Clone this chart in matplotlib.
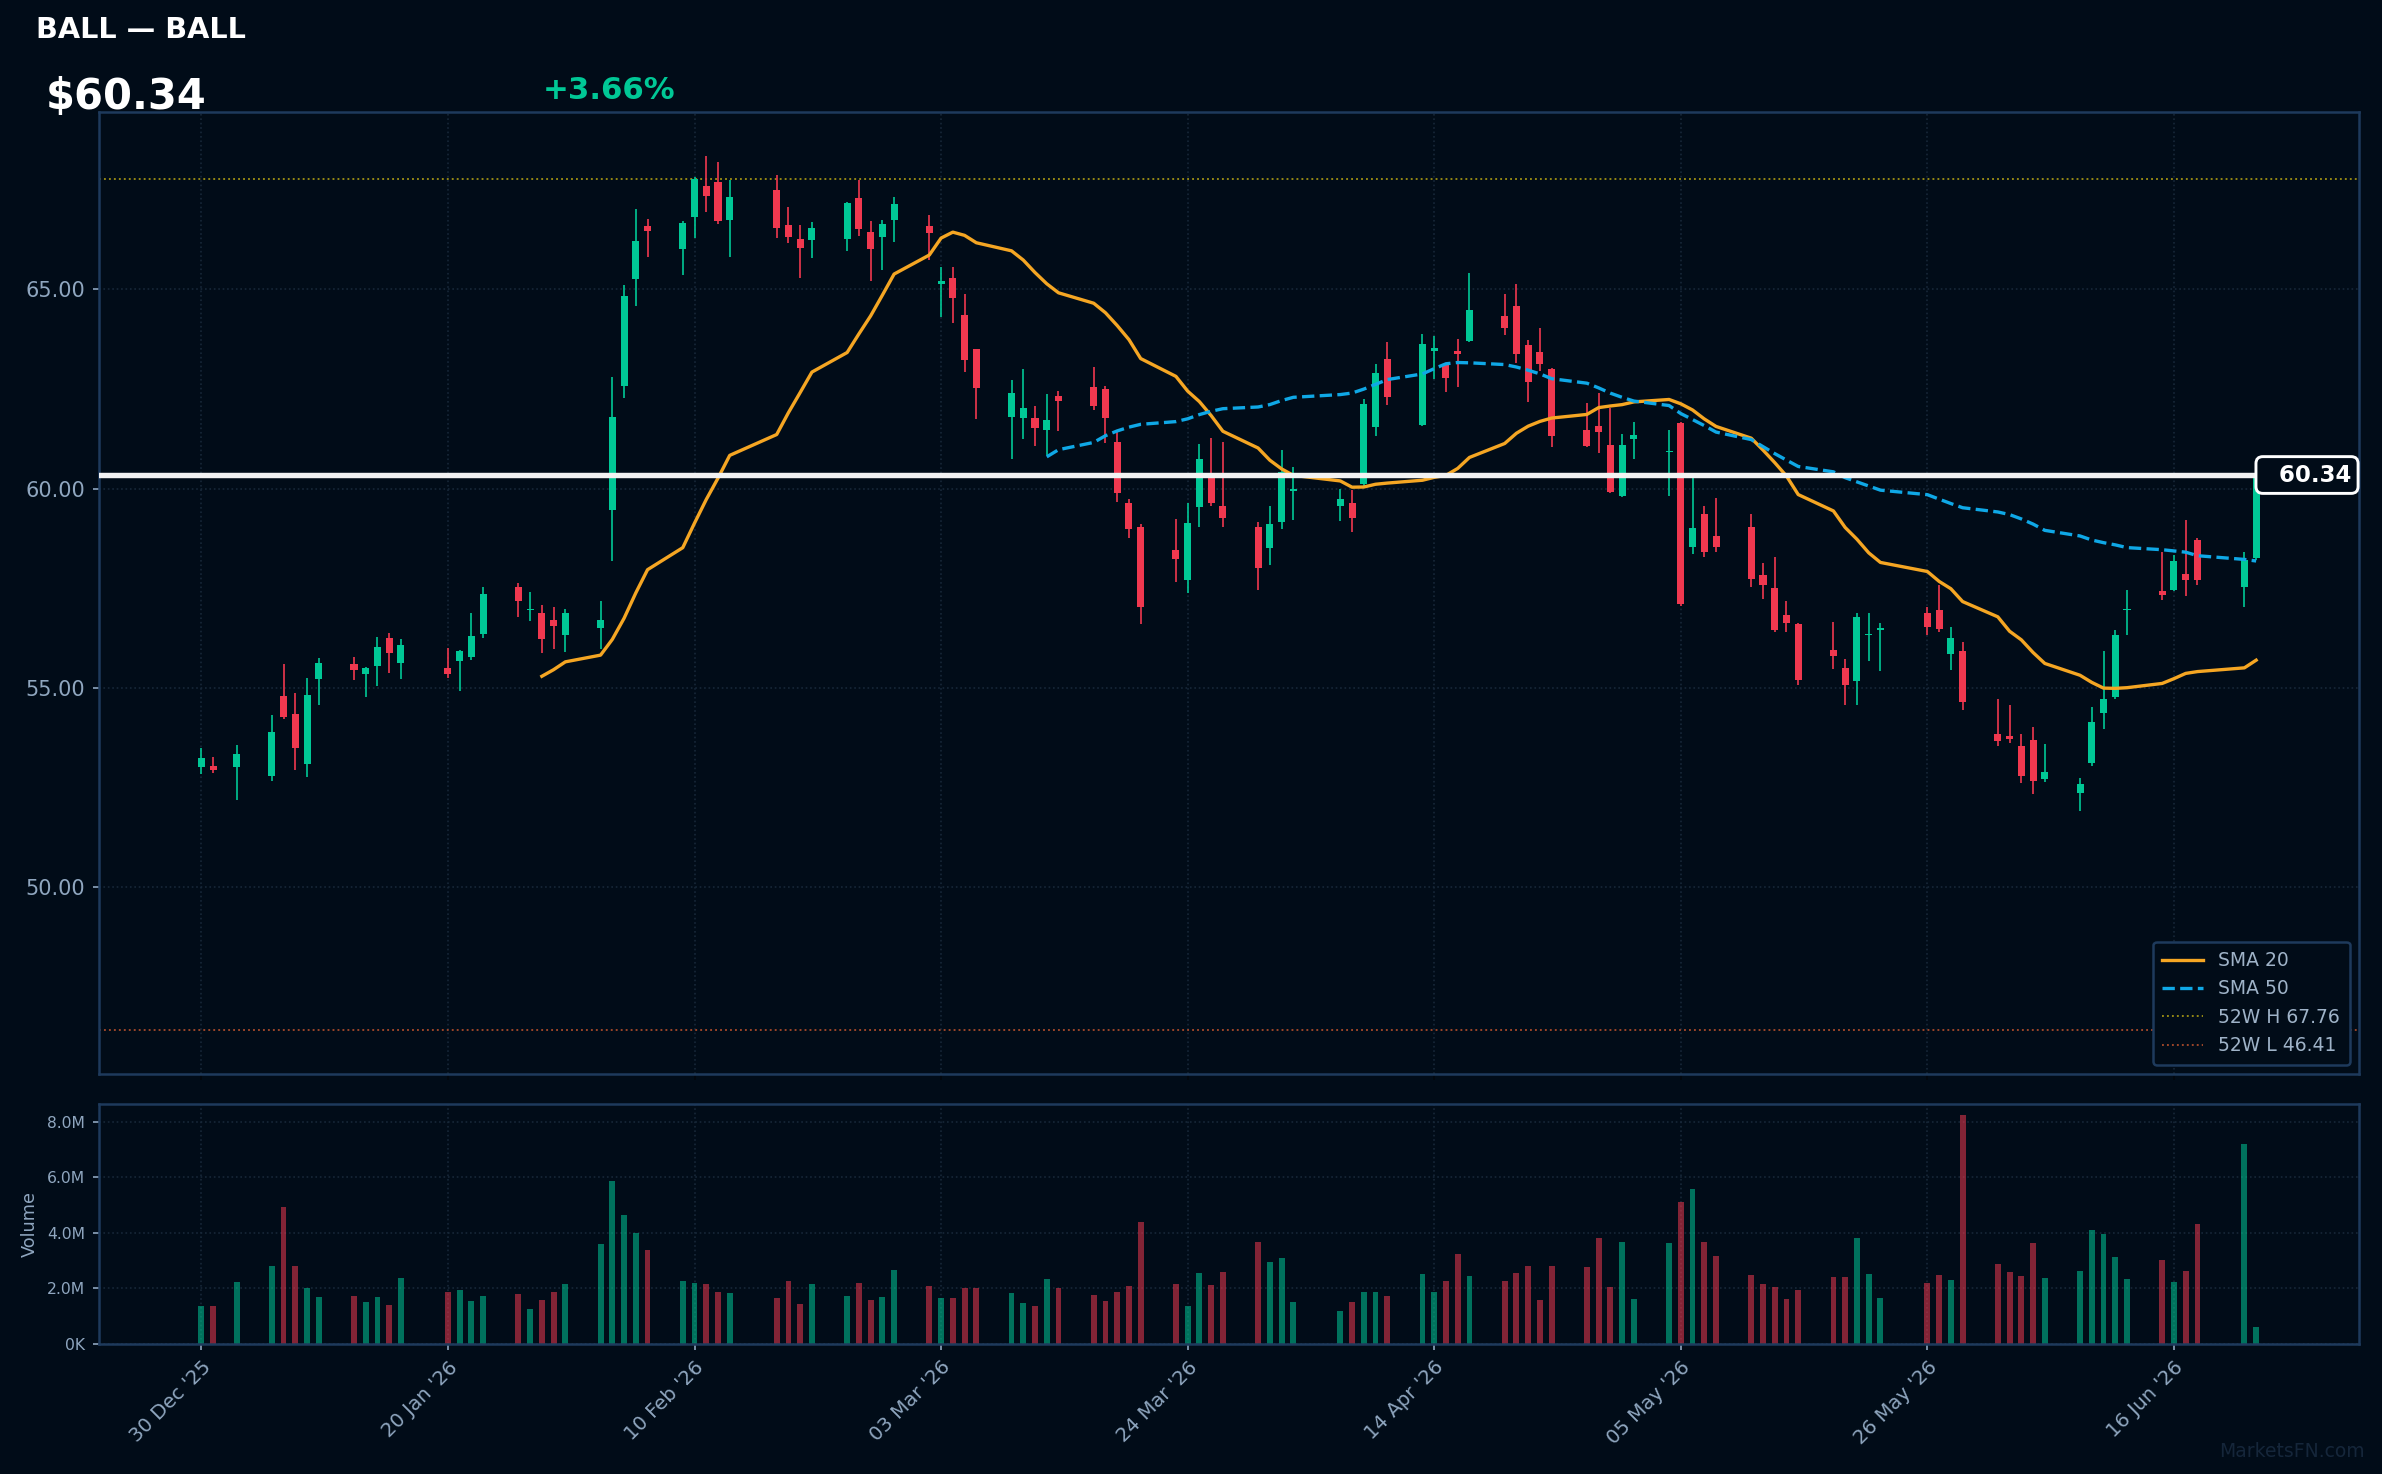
import matplotlib
matplotlib.use('Agg')
import matplotlib.pyplot as plt
import matplotlib.dates as mdates
import matplotlib.transforms as mtransforms
import numpy as np
import pandas as pd

# --- header info ---
ticker = 'BALL'
last_price = 60.34
pct_change = 3.66
high_52w = 67.76
low_52w = 46.41

# --- daily candles ---
dates = [
    '2025-12-30', '2025-12-31', '2026-01-02',
    '2026-01-05', '2026-01-06', '2026-01-07', '2026-01-08', '2026-01-09',
    '2026-01-12', '2026-01-13', '2026-01-14', '2026-01-15', '2026-01-16',
    '2026-01-20', '2026-01-21', '2026-01-22', '2026-01-23',
    '2026-01-26', '2026-01-27', '2026-01-28', '2026-01-29', '2026-01-30',
    '2026-02-02', '2026-02-03', '2026-02-04', '2026-02-05', '2026-02-06',
    '2026-02-09', '2026-02-10', '2026-02-11', '2026-02-12', '2026-02-13',
    '2026-02-17', '2026-02-18', '2026-02-19', '2026-02-20',
    '2026-02-23', '2026-02-24', '2026-02-25', '2026-02-26', '2026-02-27',
    '2026-03-02', '2026-03-03', '2026-03-04', '2026-03-05', '2026-03-06',
    '2026-03-09', '2026-03-10', '2026-03-11', '2026-03-12', '2026-03-13',
    '2026-03-16', '2026-03-17', '2026-03-18', '2026-03-19', '2026-03-20',
    '2026-03-23', '2026-03-24', '2026-03-25', '2026-03-26', '2026-03-27',
    '2026-03-30', '2026-03-31', '2026-04-01', '2026-04-02',
    '2026-04-06', '2026-04-07', '2026-04-08', '2026-04-09', '2026-04-10',
    '2026-04-13', '2026-04-14', '2026-04-15', '2026-04-16', '2026-04-17',
    '2026-04-20', '2026-04-21', '2026-04-22', '2026-04-23', '2026-04-24',
    '2026-04-27', '2026-04-28', '2026-04-29', '2026-04-30', '2026-05-01',
    '2026-05-04', '2026-05-05', '2026-05-06', '2026-05-07', '2026-05-08',
    '2026-05-11', '2026-05-12', '2026-05-13', '2026-05-14', '2026-05-15',
    '2026-05-18', '2026-05-19', '2026-05-20', '2026-05-21', '2026-05-22',
    '2026-05-26', '2026-05-27', '2026-05-28', '2026-05-29',
    '2026-06-01', '2026-06-02', '2026-06-03', '2026-06-04', '2026-06-05',
    '2026-06-08', '2026-06-09', '2026-06-10', '2026-06-11', '2026-06-12',
    '2026-06-15', '2026-06-16', '2026-06-17', '2026-06-18',
    '2026-06-22', '2026-06-23',
]

opens = [
    53.02, 53.03, 53.02,
    52.79, 54.79, 54.34, 53.09, 55.22,
    55.59, 55.35, 55.55, 56.24, 55.62,
    55.49, 55.67, 55.77, 56.35,
    57.52, 56.95, 56.87, 56.69, 56.33,
    56.49, 59.47, 62.57, 65.27, 66.59,
    66.02, 66.82, 67.60, 67.70, 66.74,
    67.50, 66.62, 66.27, 66.24,
    66.27, 67.30, 66.44, 66.32, 66.74,
    66.59, 65.12, 65.29, 64.36, 63.49,
    61.79, 61.76, 61.76, 61.46, 62.33,
    62.56, 62.51, 61.16, 59.64, 59.03,
    58.47, 57.70, 59.54, 60.29, 59.55,
    59.03, 58.51, 59.16, 59.94,
    59.57, 59.64, 60.11, 61.55, 63.24,
    61.60, 63.45, 63.10, 63.46, 63.71,
    64.33, 64.59, 63.59, 63.43, 62.99,
    61.47, 61.56, 61.09, 59.82, 61.25,
    60.91, 61.65, 58.53, 59.35, 58.82,
    59.04, 57.84, 57.50, 56.83, 56.61,
    55.96, 55.50, 55.17, 56.32, 56.45,
    56.89, 56.95, 55.85, 55.92,
    53.83, 53.78, 53.53, 53.70, 52.71,
    52.37, 53.12, 54.37, 54.77, 56.95,
    57.44, 57.45, 57.85, 58.72,
    57.53, 58.27,
]

highs = [
    53.49, 53.26, 53.56,
    54.31, 55.59, 54.86, 55.24, 55.74,
    55.77, 55.52, 56.27, 56.37, 56.22,
    55.99, 55.94, 56.87, 57.52,
    57.63, 57.40, 57.09, 57.04, 56.98,
    57.18, 62.81, 65.10, 67.01, 66.77,
    66.72, 67.82, 68.35, 68.20, 67.75,
    67.87, 67.07, 66.62, 66.69,
    67.19, 67.75, 66.72, 66.74, 67.32,
    66.87, 65.57, 65.57, 64.89, 63.51,
    62.73, 63.01, 62.06, 62.36, 62.46,
    63.04, 62.58, 61.43, 59.74, 59.10,
    59.23, 59.65, 61.13, 61.26, 61.18,
    59.15, 59.55, 60.98, 60.55,
    59.98, 59.96, 62.24, 63.12, 63.67,
    63.88, 63.82, 63.16, 63.75, 65.41,
    64.89, 65.12, 63.73, 64.04, 63.02,
    62.15, 62.39, 62.02, 61.37, 61.67,
    61.47, 61.68, 60.31, 59.57, 59.77,
    59.35, 58.12, 58.29, 57.19, 56.63,
    56.64, 55.73, 56.87, 56.87, 56.62,
    57.02, 57.57, 56.52, 56.14,
    54.71, 54.56, 53.83, 54.03, 53.58,
    52.73, 54.51, 55.92, 56.46, 57.46,
    58.42, 58.34, 59.20, 58.77,
    58.40, 60.36,
]

lows = [
    52.84, 52.87, 52.18,
    52.67, 54.22, 52.94, 52.77, 54.57,
    55.20, 54.77, 55.05, 55.37, 55.22,
    55.25, 54.92, 55.70, 56.26,
    56.78, 56.68, 55.88, 55.98, 55.90,
    55.98, 58.18, 62.28, 64.57, 65.82,
    65.35, 66.28, 66.93, 66.63, 65.82,
    66.29, 66.17, 65.29, 65.79,
    65.97, 66.34, 65.22, 65.49, 66.19,
    65.74, 64.30, 64.15, 62.92, 61.74,
    60.74, 61.24, 61.06, 60.83, 61.44,
    61.96, 61.14, 59.66, 58.76, 56.60,
    57.66, 57.38, 59.03, 59.56, 59.03,
    57.46, 58.08, 58.98, 59.20,
    59.18, 58.92, 60.07, 61.31, 62.10,
    61.58, 62.74, 62.42, 62.55, 63.67,
    63.85, 63.14, 62.18, 62.94, 61.05,
    61.05, 60.88, 59.88, 59.80, 60.75,
    59.81, 57.05, 58.35, 58.28, 58.41,
    57.53, 57.23, 56.41, 56.41, 55.07,
    55.48, 54.56, 54.57, 55.68, 55.42,
    56.33, 56.40, 55.45, 54.45,
    53.54, 53.62, 52.62, 52.34, 52.64,
    51.92, 53.04, 53.96, 54.71, 56.32,
    57.20, 57.44, 57.30, 57.57,
    57.04, 58.22,
]

closes = [
    53.24, 52.94, 53.34,
    53.89, 54.26, 53.49, 54.81, 55.62,
    55.45, 55.49, 56.02, 55.88, 56.07,
    55.35, 55.92, 56.29, 57.35,
    57.19, 56.98, 56.23, 56.55, 56.87,
    56.71, 61.79, 64.84, 66.22, 66.47,
    66.67, 67.76, 67.35, 66.72, 67.32,
    66.54, 66.32, 66.03, 66.54,
    67.17, 66.52, 66.02, 66.64, 67.14,
    66.42, 65.21, 64.77, 63.22, 62.52,
    62.41, 62.03, 61.51, 61.71, 62.19,
    62.08, 61.77, 59.89, 58.98, 57.03,
    58.23, 59.13, 60.75, 59.64, 59.26,
    58.01, 59.10, 60.41, 59.97,
    59.73, 59.27, 62.12, 62.89, 62.30,
    63.62, 63.53, 62.77, 63.37, 64.49,
    64.02, 63.38, 62.68, 63.13, 61.33,
    61.08, 61.43, 59.92, 61.09, 61.34,
    60.94, 57.10, 59.02, 58.40, 58.53,
    57.73, 57.58, 56.46, 56.63, 55.20,
    55.79, 55.08, 56.79, 56.33, 56.49,
    56.53, 56.47, 56.24, 54.65,
    53.67, 53.72, 52.79, 52.67, 52.90,
    52.60, 54.15, 54.71, 56.33, 56.97,
    57.34, 58.19, 57.71, 57.70,
    58.21, 60.34,
]

# volume in millions
volumes_m = [
    1.35, 1.35, 2.24,
    2.81, 4.92, 2.81, 2.02, 1.70,
    1.74, 1.52, 1.70, 1.42, 2.38,
    1.88, 1.95, 1.56, 1.74,
    1.81, 1.27, 1.60, 1.88, 2.17,
    3.60, 5.88, 4.63, 3.98, 3.38,
    2.27, 2.20, 2.17, 1.88, 1.85,
    1.67, 2.27, 1.45, 2.17,
    1.74, 2.20, 1.60, 1.70, 2.67,
    2.10, 1.67, 1.67, 2.02, 2.02,
    1.85, 1.49, 1.38, 2.35, 2.02,
    1.77, 1.56, 1.88, 2.10, 4.38,
    2.17, 1.38, 2.56, 2.13, 2.60,
    3.67, 2.95, 3.10, 1.52,
    1.17, 1.52, 1.88, 1.88, 1.74,
    2.52, 1.88, 2.27, 3.24, 2.45,
    2.27, 2.56, 2.81, 1.60, 2.81,
    2.77, 3.81, 2.06, 3.67, 1.63,
    3.63, 5.10, 5.57, 3.67, 3.17,
    2.49, 2.17, 2.06, 1.63, 1.95,
    2.41, 2.41, 3.81, 2.52, 1.67,
    2.20, 2.49, 2.31, 8.22,
    2.86, 2.60, 2.45, 3.63, 2.38,
    2.63, 4.10, 3.95, 3.13, 2.35,
    3.02, 2.24, 2.63, 4.33,
    7.20, 0.60,
]

tick_dates = ['2025-12-30', '2026-01-20', '2026-02-10', '2026-03-03', '2026-03-24',
              '2026-04-14', '2026-05-05', '2026-05-26', '2026-06-16']
price_ticks = [50, 55, 60, 65]
volume_ticks = [0, 2e6, 4e6, 6e6, 8e6]

# --- styling ---
BG = '#010c18'
SPINE = '#1e3a5c'
GRID = '#172738'
TXT = '#8fa6bf'
UP = '#00c896'
DOWN = '#f0384f'
SMA20_C = '#f5a623'
SMA50_C = '#0fa8e6'

df = pd.DataFrame({'date': pd.to_datetime(dates), 'open': opens, 'high': highs,
                   'low': lows, 'close': closes, 'volume': np.array(volumes_m) * 1e6})
df['sma20'] = df['close'].rolling(20).mean()
df['sma50'] = df['close'].rolling(50).mean()

x = mdates.date2num(df['date'])
is_up = df['close'] >= df['open']
cols = np.where(is_up, UP, DOWN)

W, H, DPI = 2382, 1474, 150
fig = plt.figure(figsize=(W / DPI, H / DPI), dpi=DPI, facecolor=BG)
ax = fig.add_axes([0.0414, 0.2714, 0.9489, 0.6526], facecolor=BG)
axv = fig.add_axes([0.0414, 0.0882, 0.9489, 0.1628], facecolor=BG, sharex=ax)

# candles
ax.vlines(x, df['low'], df['high'], colors=cols, lw=0.8, zorder=3)
body_lo = np.minimum(df['open'], df['close'])
body_h = np.maximum(np.abs(df['close'] - df['open']), 0.04)
ax.bar(x, body_h, bottom=body_lo, width=0.6, color=cols, lw=0, zorder=4)

# moving averages
l20, = ax.plot(x, df['sma20'], color=SMA20_C, lw=1.6, label='SMA 20', zorder=5)
l50, = ax.plot(x, df['sma50'], color=SMA50_C, lw=1.6, ls='--', label='SMA 50', zorder=5)

# 52 week range
lh = ax.axhline(high_52w, color='#9a8c14', lw=0.9, ls=':', label=f'52W H {high_52w:.2f}', zorder=2)
ll = ax.axhline(low_52w, color='#a3482a', lw=0.9, ls=':', label=f'52W L {low_52w:.2f}', zorder=2)

# last price line + label
ax.axhline(last_price, color='#f2f2f2', lw=2.6, zorder=6)
trans = mtransforms.blended_transform_factory(ax.transAxes, ax.transData)
ax.text(0.9966, last_price, f'  {last_price:.2f}', transform=trans, ha='right', va='center',
        color='white', fontsize=11, fontweight='bold', zorder=8,
        bbox=dict(boxstyle='round,pad=0.3', fc=BG, ec='white', lw=1.4))

span = x[-1] - x[0]
ax.set_xlim(x[0] - 0.05 * span, x[-1] + 0.05 * span)
ax.set_ylim(low_52w - 1.097, max(highs) + 1.097)
ax.set_yticks(price_ticks)
ax.yaxis.set_major_formatter(plt.FuncFormatter(lambda v, p: f'{v:.2f}'))

leg = ax.legend(handles=[l20, l50, lh, ll], loc='lower right', fontsize=9,
                facecolor=BG, edgecolor=SPINE, labelcolor='#9fb3c8', framealpha=1.0,
                borderpad=0.5, handlelength=2.2)
leg.get_frame().set_linewidth(1.2)

# volume
axv.bar(x, df['volume'], width=0.5, color=cols, alpha=0.55, lw=0)
axv.set_ylim(0, df['volume'].max() * 1.05)
axv.set_yticks(volume_ticks)
axv.yaxis.set_major_formatter(plt.FuncFormatter(
    lambda v, p: f'{v / 1e6:.1f}M' if v >= 1e6 else f'{v / 1e3:.0f}K'))
axv.set_ylabel('Volume', color=TXT, fontsize=8.5)

ticks = mdates.date2num(pd.to_datetime(tick_dates))
axv.set_xticks(ticks)
axv.set_xticklabels([d.strftime("%d %b '%y") for d in pd.to_datetime(tick_dates)],
                    rotation=45, ha='right', rotation_mode='anchor')
plt.setp(ax.get_xticklabels(), visible=False)

for a, fs in ((ax, 10), (axv, 7.5)):
    for s in a.spines.values():
        s.set_color(SPINE)
        s.set_linewidth(1.2)
    a.tick_params(axis='y', colors=TXT, labelsize=fs, length=3, width=0.8)
    a.tick_params(axis='x', colors=TXT, labelsize=9.5, length=3, width=0.8)
    a.grid(True, color=GRID, ls=':', lw=0.8)
    a.set_axisbelow(True)
# x tick marks of the price panel are nearly invisible in the original
ax.tick_params(axis='x', color='#03070c')

# header
fig.text(0.0153, 0.9742, f'{ticker} \u2014 {ticker}', color='white', fontsize=13.8,
         fontweight='bold', ha='left', va='baseline')
fig.text(0.0191, 0.9258, f'${last_price:.2f}', color='white', fontsize=20,
         fontweight='bold', ha='left', va='baseline')
fig.text(0.2277, 0.933, f'+{pct_change:.2f}%', color=UP, fontsize=14.8,
         fontweight='bold', ha='left', va='baseline')
fig.text(0.9929, 0.0116, 'MarketsFN.com', color='#15263a', fontsize=9,
         ha='right', va='baseline')

fig.savefig('out.png', dpi=DPI, facecolor=BG)
